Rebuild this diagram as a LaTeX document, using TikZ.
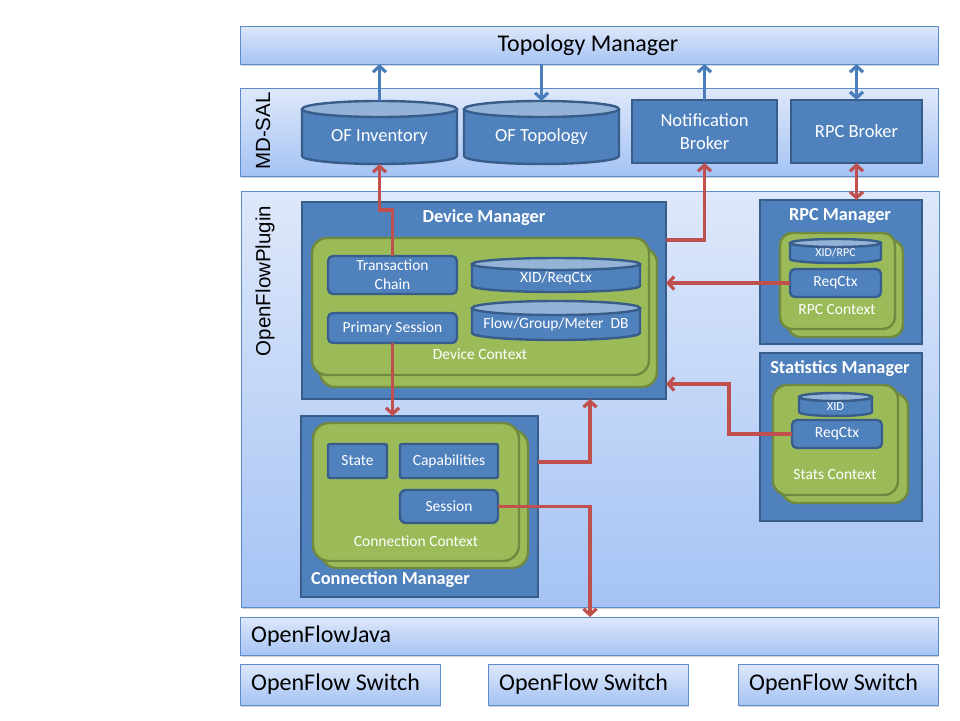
\documentclass[tikz,border=0pt]{standalone}
\usepackage{fontspec}
\setmainfont{Carlito}
\newfontfamily\lsans{Liberation Sans}
\usetikzlibrary{arrows.meta,shadows}
\definecolor{dblue}{HTML}{4F81BD}
\definecolor{dborder}{HTML}{385D8A}
\definecolor{cyltop}{HTML}{95B3D7}
\definecolor{gfill}{HTML}{9BBB59}
\definecolor{gborder}{HTML}{71893F}
\definecolor{ptop}{HTML}{DEE8FA}
\definecolor{pbot}{HTML}{A5C3F4}
\definecolor{pborder}{HTML}{5D8CCB}
\definecolor{rarr}{HTML}{C0504D}
\definecolor{barr}{HTML}{4A7EBB}
\newcommand{\fsz}[2]{\fontsize{#1}{#2}\selectfont}
\tikzset{
  panel/.style={draw=pborder, line width=1pt, top color=ptop, bottom color=pbot,
    drop shadow={shadow xshift=0.8pt,shadow yshift=-1.5pt,opacity=0.35}},
  dbox/.style={draw=dborder, fill=dblue, line width=2.4pt, text=white, align=center, font=\fsz{18.5}{23}},
  gbox/.style={draw=gborder, fill=gfill, line width=2.4pt},
  wt/.style={text=white, inner sep=0pt, align=center},
  lbl/.style={inner sep=0pt},
  tip/.tip={Straight Barb[length=6pt,width=13pt]},
  redarr/.style={draw=rarr, line width=3.2pt, -tip},
  redarr2/.style={draw=rarr, line width=3.2pt, tip-tip},
  bluearr/.style={draw=barr, line width=3.2pt, -tip},
  bluearr2/.style={draw=barr, line width=3.2pt, tip-tip},
}
% name x1 y1 x2 y2 style text
\newcommand{\rectnode}[7]{%
  \pgfmathsetmacro\rnw{#4-#2}\pgfmathsetmacro\rnh{#5-#3}%
  \pgfmathsetmacro\rnx{(#2+#4)/2}\pgfmathsetmacro\rny{(#3+#5)/2}%
  \node[#6, minimum width=\rnw pt, minimum height=\rnh pt, inner sep=0pt, outer sep=0pt] (#1) at (\rnx,\rny) {#7};}
% name x1 y1 x2 y2 ry fontsize text
\newcommand{\cylnode}[8]{%
  \pgfmathsetmacro\cyrx{(#4-#2)/2}%
  \pgfmathsetmacro\cycx{(#4+#2)/2}%
  \pgfmathsetmacro\cyty{#3+#6}%
  \pgfmathsetmacro\cyby{#5-#6}%
  \pgfmathsetmacro\cyw{#4-#2}%
  \pgfmathsetmacro\cyh{#5-#3}%
  \pgfmathsetmacro\cycy{(#3+#5)/2}%
  \pgfmathsetmacro\cytxt{(#3+#6+#5)/2}%
  \fill[dblue] (#2,\cyty) -- (#2,\cyby) arc[start angle=180,end angle=360,x radius=\cyrx pt,y radius=#6 pt]
     -- (#4,\cyty) arc[start angle=0,end angle=-180,x radius=\cyrx pt,y radius=#6 pt] -- cycle;
  \draw[dborder, line width=2.4pt] (#2,\cyty) -- (#2,\cyby) arc[start angle=180,end angle=360,x radius=\cyrx pt,y radius=#6 pt] -- (#4,\cyty);
  \draw[dborder, line width=2.4pt, fill=cyltop] (\cycx,\cyty) ellipse[x radius=\cyrx pt, y radius=#6 pt];
  \node[minimum width=\cyw pt, minimum height=\cyh pt, inner sep=0pt, outer sep=0pt] (#1) at (\cycx,\cycy) {};
  \node[wt, font=\fsz{#7}{#7}] at (\cycx,\cytxt) {#8};}
\begin{document}
\begin{tikzpicture}[x=1pt,y=-1pt]
\useasboundingbox (0,0) rectangle (960,720);
\fill[white] (0,0) rectangle (960,720);

% ---- panels
\rectnode{topo}{240}{26}{938}{64}{panel}{}
\node[lbl, font=\fsz{24}{24}] at (588,45) {Topology Manager};
\rectnode{mdsal}{240}{88}{938}{176}{panel}{}
\node[lbl, font=\lsans\fsz{20.5}{20.5}, rotate=90] at (263,131) {MD-SAL};
\rectnode{ofp}{241}{191}{939}{607}{panel}{}
\node[lbl, font=\lsans\fsz{20.5}{20.5}, rotate=90] at (265,281) {OpenFlowPlugin};
\rectnode{ofj}{240}{617}{938}{655}{panel}{}
\node[lbl, font=\fsz{24}{24}, anchor=west] at (251,636) {OpenFlowJava};
\rectnode{sw1}{240}{664}{440}{705}{panel}{}
\rectnode{sw2}{488}{664}{688}{705}{panel}{}
\rectnode{sw3}{738}{664}{938}{705}{panel}{}
\node[lbl, font=\fsz{24}{24}, anchor=west] at (251,684) {OpenFlow Switch};
\node[lbl, font=\fsz{24}{24}, anchor=west] at (499,684) {OpenFlow Switch};
\node[lbl, font=\fsz{24}{24}, anchor=west] at (749,684) {OpenFlow Switch};

% ---- MD-SAL content
\cylnode{ofinv}{302}{101}{457}{164}{8}{18.5}{OF Inventory}
\cylnode{oftopo}{464}{101}{619}{164}{8}{18.5}{OF Topology}
\rectnode{notif}{632}{100}{777}{163}{dbox}{Notification\\Broker}
\rectnode{rpcb}{791}{100}{922}{163}{dbox}{RPC Broker}

% ---- Device Manager
\rectnode{devmgr}{302}{202}{666}{399}{dbox}{}
\node[wt, font=\bfseries\fsz{18.3}{18.3}] at (484,218) {Device Manager};
\rectnode{devctxb}{320}{248}{657}{387}{gbox, rounded corners=15pt}{}
\rectnode{devctx}{312}{238}{649}{375}{gbox, rounded corners=15pt}{}
\rectnode{txchain}{328}{256}{457}{294}{dbox, rounded corners=5pt, font=\fsz{15.5}{19}}{Transaction\\Chain}
\rectnode{primsess}{328}{313}{457}{343}{dbox, rounded corners=5pt, font=\fsz{15.5}{15.5}}{Primary Session}
\cylnode{xidreq}{472}{258}{640}{292}{6}{15.5}{XID/ReqCtx}
\cylnode{fgm}{472}{301}{640}{340}{7}{15.5}{Flow/Group/Meter\ \ DB}
\node[wt, font=\fsz{15.5}{15.5}] at (480,354) {Device Context};

% ---- RPC Manager
\rectnode{rpcmgr}{760}{200}{922}{344}{dbox}{}
\node[wt, font=\bfseries\fsz{18.3}{18.3}] at (840,216) {RPC Manager};
\rectnode{rpcctxb}{788}{240}{903}{337}{gbox, rounded corners=12pt}{}
\rectnode{rpcctx}{780}{233}{895}{329}{gbox, rounded corners=12pt}{}
\cylnode{xidrpc}{790}{239}{881}{263}{4}{12}{XID/RPC}
\rectnode{rpcreq}{790}{269}{881}{297}{dbox, rounded corners=5pt, font=\fsz{15.5}{15.5}}{ReqCtx}
\node[wt, font=\fsz{15.5}{15.5}] at (837,310) {RPC Context};

% ---- Statistics Manager
\rectnode{statmgr}{760}{353}{922}{521}{dbox}{}
\node[wt, font=\bfseries\fsz{18.3}{18.3}] at (840,369) {Statistics Manager};
\rectnode{statctxb}{782}{393}{908}{503}{gbox, rounded corners=14pt}{}
\rectnode{statctx}{773}{385}{898}{495}{gbox, rounded corners=14pt}{}
\cylnode{xid}{799}{393}{872}{416}{4}{12.5}{XID}
\rectnode{statreq}{792}{420}{882}{448}{dbox, rounded corners=5pt, font=\fsz{15.5}{15.5}}{ReqCtx}
\node[wt, font=\fsz{15.5}{15.5}] at (835,475) {Stats Context};

% ---- Connection Manager
\rectnode{connmgr}{301}{416}{538}{597}{dbox}{}
\rectnode{connctxb}{321}{430}{528}{568}{gbox, rounded corners=16pt}{}
\rectnode{connctx}{313}{423}{519}{561}{gbox, rounded corners=16pt}{}
\rectnode{state}{328}{444}{387}{478}{dbox, rounded corners=2pt, font=\fsz{15.5}{15.5}}{State}
\rectnode{caps}{400}{444}{498}{478}{dbox, rounded corners=2pt, font=\fsz{15.5}{15.5}}{Capabilities}
\rectnode{sess}{400}{490}{498}{523}{dbox, rounded corners=6pt, font=\fsz{15.5}{15.5}}{Session}
\node[wt, font=\fsz{15.5}{15.5}] at (416,541) {Connection Context};
\node[wt, font=\bfseries\fsz{18.3}{18.3}, anchor=west] at (311,580) {Connection Manager};

% ---- blue connectors
\draw[bluearr] (ofinv.north) -- (ofinv.north |- topo.south);
\draw[bluearr] (oftopo.north |- topo.south) -- (oftopo.north);
\draw[bluearr] (notif.north) -- (notif.north |- topo.south);
\draw[bluearr2] (rpcb.north) -- (rpcb.north |- topo.south);

% ---- red connectors
\coordinate (j1) at (0,210);
\coordinate (j2) at (0,240);
\coordinate (j3) at (729,384);
\coordinate (j4) at (590,462);
\draw[redarr] (txchain.north) -- (txchain.north |- j1) -| (ofinv.south);
\draw[redarr] (devmgr.east |- j2) -| (notif.south);
\draw[redarr2] (rpcb.south) -- (rpcb.south |- rpcmgr.north);
\draw[redarr] (rpcreq.west) -- (rpcreq.west -| devmgr.east);
\draw[redarr] (statreq.west) -| (j3) -- (j3 -| devmgr.east);
\draw[redarr] (primsess.south) -- (primsess.south |- connmgr.north);
\draw[redarr] (connmgr.east |- j4) -- (j4) -- (j4 |- devmgr.south);
\draw[redarr] (sess.east) -| (j4 |- ofj.north);
\end{tikzpicture}
\end{document}
